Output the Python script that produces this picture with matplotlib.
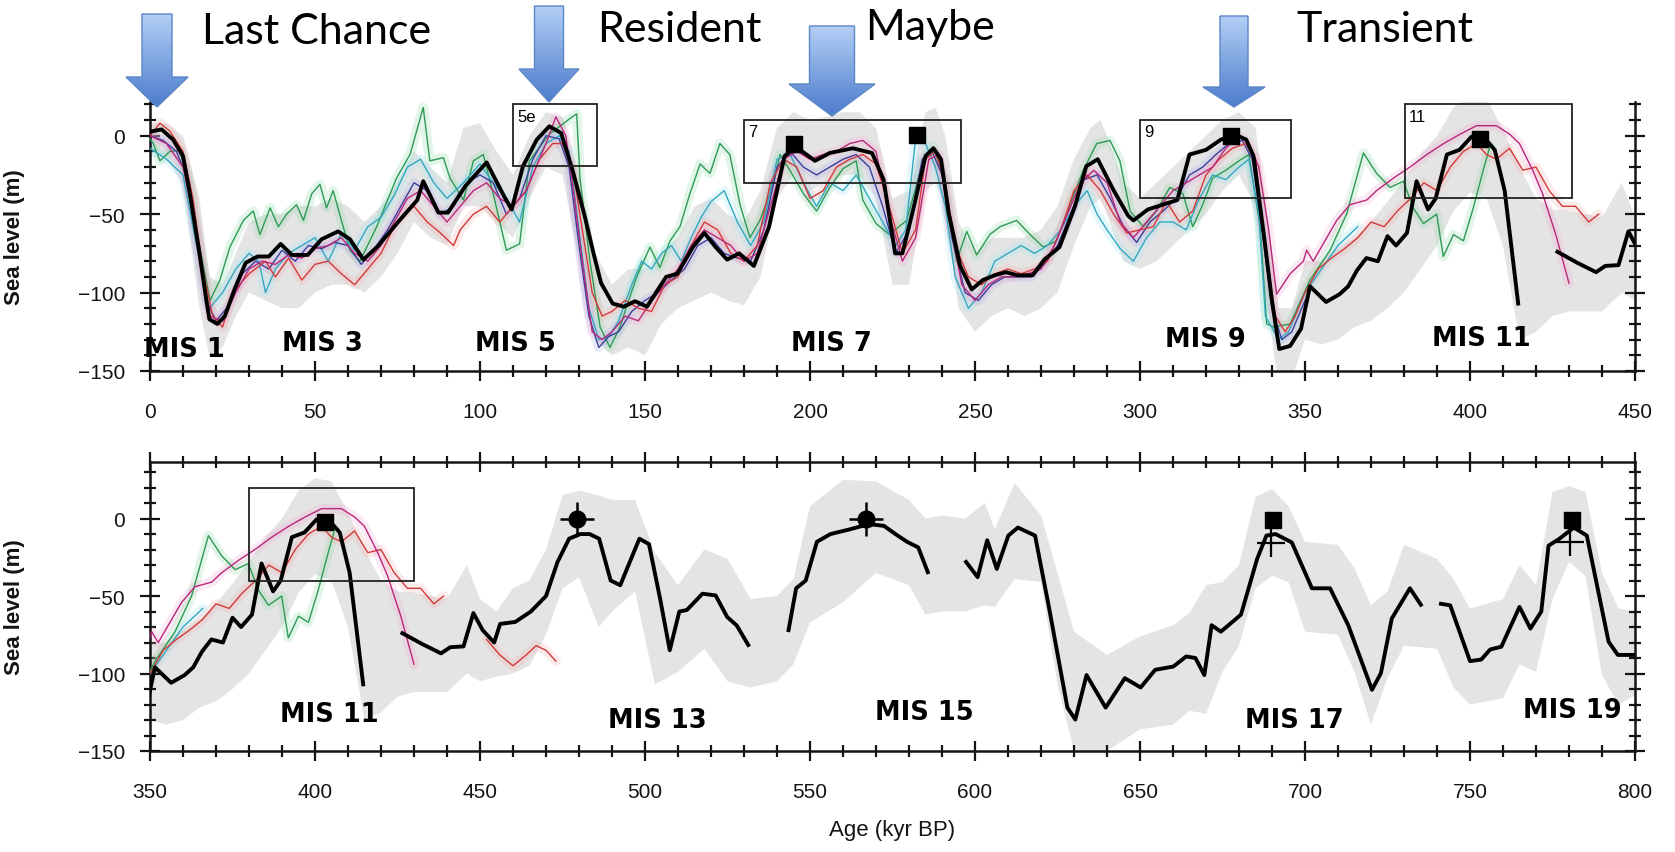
import numpy as np
import matplotlib
matplotlib.use("Agg")
import matplotlib.pyplot as plt
from matplotlib.patches import Rectangle, Polygon
from matplotlib.colors import LinearSegmentedColormap
from matplotlib.ticker import MultipleLocator

# ---------------------------------------------------------------- data
# Stacked sea-level reconstruction (thick black), kyr BP vs metres; None = gap
black_stack = [
    (0.6, 2.8), (3.5, 4), (7, -2.5), (10, -13), (12, -36), (15, -75), (17, -104), (18, -117),
    (20.4, -120), (22.7, -115), (25.6, -98), (29, -81), (32.6, -77), (36, -77), (39.6, -69),
    (43, -76), (47.8, -76), (52, -66), (57, -61), (60.6, -66), (64.7, -79), (69, -70.5),
    (75.8, -53.5), (81, -41), (82.8, -29), (87.4, -49), (90.3, -49), (95.6, -32), (102, -17),
    (107.3, -38.6), (109.6, -47), (113, -19.5), (117.2, -2.5), (121, 6), (124.6, 1.7),
    (128, -21.6), (131.7, -51), (134.4, -75), (136.7, -94), (140.2, -107), (143.6, -109),
    (147, -105.5), (150.6, -109), (156.4, -90), (159.8, -88), (164.5, -71), (168, -62),
    (171.4, -71), (174.9, -79), (178.5, -75), (183, -83), (187.6, -58), (192.3, -13),
    (195.7, -7), (201.5, -16), (206, -11), (213, -8), (218.8, -11), (222.3, -28), (225.8, -75),
    (228, -75), (231.5, -45), (235, -13), (237.4, -8), (239.7, -15), (242, -49), (245.5, -83),
    (249, -98), (252.4, -92), (255.9, -89), (259.4, -87), (262.9, -89), (267.5, -89),
    (271, -79), (275.6, -71), (280.3, -45), (283.7, -19.5), (287.2, -15), (291.8, -34),
    (296.4, -51), (298, -54), (302.4, -47), (306.8, -44), (311.3, -41), (315, -12), (320, -9),
    (324.5, -2.5), (329, 0.6), (332.2, -2.5), (334.4, -13), (337.7, -66), (339.9, -104),
    (342.2, -136), (345.5, -134), (348.8, -123), (351.5, -96), (356.4, -106), (360.5, -101),
    (363.1, -96), (365.7, -86), (368.6, -78), (372.1, -80), (375, -64), (377.6, -70),
    (380.9, -62), (383.8, -29), (387.3, -47), (389.6, -40), (393, -12), (396.8, -9),
    (400.5, -0.5), (404, -0.5), (407.5, -9), (410.5, -35), (414.6, -107), (420, None),
    (426.5, -74), (432.5, -81), (438.2, -87), (441, -83), (445, -82.5), (448, -61),
    (450.8, -72), (454.3, -80), (456.1, -68), (460.7, -66.7), (465.4, -60), (470, -50),
    (473.5, -28), (477, -13), (480.4, -10), (483.2, -10), (486.1, -13), (489.6, -40),
    (492.5, -43), (498.3, -13), (501.2, -16.5), (504.6, -52), (507.5, -85), (510.4, -60),
    (512.7, -59), (517.4, -48.5), (521.4, -49.6), (524.9, -63.5), (527.8, -69), (531.3, -81.6),
    (537, None), (543.5, -72), (545.8, -45), (548.7, -40), (552.1, -15), (556.2, -10),
    (562, -7), (567.8, -3.6), (572.4, -4.7), (575.9, -10), (579.4, -15), (582.8, -18.6),
    (585.7, -34.6), (591, None), (597.3, -28), (600.8, -37.8), (603.7, -14), (606.6, -32.5),
    (610.1, -11), (613, -5.8), (618.2, -11), (622.3, -56), (628, -122), (630.4, -129.7),
    (633.8, -101), (639.6, -122), (645.4, -103), (650.2, -109), (654.6, -97.6), (660.1, -95.5),
    (664, -89), (666.8, -90), (669.5, -101), (671.7, -68.8), (674.5, -73), (680.6, -62),
    (685.5, -26), (688.3, -11), (691.1, -10), (696, -15.4), (702.1, -45), (707.6, -45),
    (713.1, -68.8), (720.3, -110.5), (723, -99.8), (726.3, -64.5), (731.8, -45), (735.1, -55.6),
    (738, None), (741.2, -55), (744, -56), (750, -92), (753.4, -91), (756.1, -84.5),
    (759.5, -82.7), (765, -57), (768.3, -71), (771.6, -60), (773.8, -17.5), (777.1, -13),
    (781.5, -5.8), (785.4, -11), (792, -79.5), (794.8, -88), (799.8, -88),
]

# Uncertainty envelope of the stack: (age, upper, lower)
envelope = [
    (0, 8, -8), (5, 8, -14), (10, 0, -32), (15, -40, -110), (18, -90, -140), (22, -95, -135),
    (26, -75, -115), (30, -55, -100), (35, -50, -105), (40, -50, -110), (45, -45, -110),
    (50, -45, -100), (55, -40, -95), (60, -45, -95), (65, -55, -100), (70, -45, -90),
    (75, -30, -75), (80, -10, -55), (85, -20, -65), (90, -30, -70), (95, 5, -45), (100, 8, -45),
    (105, -10, -55), (110, -25, -65), (115, 0, -40), (120, 15, -20), (125, 12, -25),
    (130, -25, -80), (135, -75, -130), (140, -95, -140), (145, -85, -135), (150, -85, -140),
    (155, -75, -120), (160, -65, -110), (165, -45, -105), (170, -40, -100), (175, -50, -105),
    (180, -55, -108), (185, -35, -90), (190, 5, -40), (195, 15, -25), (200, 10, -35),
    (205, 12, -30), (210, 15, -25), (215, 15, -25), (220, 5, -40), (225, -40, -95),
    (230, -35, -95), (235, 15, -35), (238, 18, -30), (241, 0, -45), (245, -55, -110),
    (250, -75, -125), (255, -65, -115), (260, -65, -110), (265, -65, -115), (270, -60, -110),
    (275, -45, -100), (280, -15, -70), (285, 5, -45), (288, 10, -40), (290, 0, -50),
    (295, -30, -80), (300, -40, -85), (305, -30, -80), (310, -20, -70), (315, -10, -60),
    (320, 0, -50), (325, 10, -35), (330, 15, -25), (335, 5, -45), (338, -40, -100),
    (342, -110, -160), (346, -110, -155), (350, -80, -130), (355, -80, -133), (360, -72, -130),
    (365, -65, -122), (370, -55, -118), (375, -42, -110), (380, -28, -100), (385, -12, -85),
    (390, 0, -70), (395, 18, -48), (400, 26, -36), (405, 24, -40), (410, 4, -70),
    (415, -20, -130), (420, -40, -125), (425, -47, -115), (430, -48, -112), (435, -50, -112),
    (440, -52, -112), (446, -30, -100), (450, -52, -105), (455, -60, -102), (460, -45, -100),
    (465, -40, -95), (470, -20, -75), (475, 15, -45), (480, 18, -38), (486, 15, -70),
    (490, 12, -60), (497, 12, -47), (503, -22, -107), (510, -43, -99), (518, -20, -84),
    (525, -26, -105), (532, -52, -109), (540, -50, -105), (545, -39, -94), (550, 8, -67),
    (560, 25, -54), (570, 24, -35), (580, 12, -43), (585, 0, -62), (590, 2, -60),
    (597, 0, -60), (603, 10, -56), (606, -7, -57), (612, 23, -39), (620, 2, -41),
    (625, -35, -107), (630, -73, -150), (640, -88, -150), (650, -76, -136), (660, -69, -133),
    (665, -61, -124), (670, -43, -126), (675, -41, -99), (680, -30, -82), (685, 14, -45),
    (690, 19, -37), (695, 8, -41), (700, -15, -73), (710, -17, -75), (715, -32, -99),
    (720, -56, -133), (725, -47, -103), (730, -17, -82), (740, -26, -84), (745, -39, -109),
    (750, -58, -120), (760, -52, -116), (765, -30, -94), (770, -43, -99), (775, 17, -52),
    (780, 21, -28), (785, 17, -37), (790, -35, -101), (795, -58, -120), (800, -60, -114),
]

# Individual records (thin coloured curves)
green_rec = [
    (0, -2), (1, -5), (3, -16), (6, -10), (9, -9.5), (12, -30), (15, -70), (18.2, -105),
    (21.2, -92), (24.2, -71), (28.3, -54), (31.3, -48), (33.3, -63), (36.4, -46), (38.9, -58),
    (41.4, -50), (44.4, -44), (46.5, -54), (49, -37), (51.5, -31), (53.5, -46), (55.5, -35),
    (58, -54), (60.6, -73), (63.6, -80), (68.7, -58), (74.7, -27), (78.8, -12), (82.8, 18),
    (84.8, -16), (88.9, -14), (90.9, -27), (95, -41), (98, -16), (101, -12), (104, -37),
    (108, -73), (112, -69), (115, -16), (121, 1), (127.3, 11), (129.3, 14), (130.3, -27),
    (133.3, -80), (136.4, -122), (139.4, -135), (142.4, -122), (144.4, -109), (147.5, -90),
    (151.5, -71), (154.5, -84), (157.6, -67), (160.6, -58), (163.6, -37), (166.7, -18),
    (169.7, -24), (172.7, -5), (175.7, -12), (178.8, -44), (181.8, -65), (184.8, -54),
    (188.9, -31), (190.9, -12), (193.9, -22), (198, -37), (202, -48), (206, -33), (210, -21),
    (214, -16), (216, -41), (220, -56), (224, -63), (229.3, -54), (234.3, -16), (237.4, -7),
    (240.4, -27), (244.4, -80), (247.5, -61), (250.5, -76), (254.5, -63), (257.6, -58),
    (262.6, -54), (266.7, -63), (270.7, -71), (274.7, -67), (278.8, -44), (282.8, -22),
    (286.9, -5), (290.9, -3), (293.9, -16), (297, -48), (301, -58), (305, -48), (309, -33),
    (313, -37), (316, -58), (319, -44), (322, -27), (326, -22), (330, -16), (333, -12),
    (336.4, -58), (338.4, -120), (340.4, -122), (345.5, -120), (351.5, -92), (357.6, -73),
    (362.6, -50), (367.7, -11), (371.7, -24), (375.8, -33), (379.8, -29), (382.8, -46),
    (385.9, -56), (389.9, -50), (391.9, -77), (395, -63), (398, -67), (401, -46), (404, -22),
    (406, -7),
]
cyan_rec = [
    (0, -8), (5, -15), (10, -25), (15, -80), (18, -110), (22, -100), (26, -85), (30, -75),
    (33, -80), (35, -100), (38, -85), (42, -75), (46, -70), (50, -65), (54, -80), (58, -62),
    (62, -73), (66, -58), (70, -52), (74, -38), (78, -20), (82, -15), (86, -30), (90, -40),
    (95, -30), (100, -18), (104, -30), (108, -40), (112, -55), (116, -20), (120, -5), (124, 0),
    (127, -10), (130, -60), (133, -110), (136, -130), (139, -128), (142, -118), (146, -95),
    (149, -80), (152, -85), (155, -75), (158, -70), (161, -80), (164, -65), (167, -52),
    (170, -42), (174, -35), (178, -55), (182, -70), (186, -55), (190, -15), (194, -12),
    (198, -30), (202, -45), (206, -30), (210, -35), (214, -25), (218, -40), (222, -55),
    (226, -70), (229, -60), (232, -2), (235, -5), (238, -20), (241, -45), (244, -90),
    (248, -110), (252, -100), (256, -80), (260, -75), (264, -70), (268, -75), (272, -70),
    (276, -60), (280, -45), (284, -35), (287, -50), (290, -60), (294, -72), (298, -80),
    (302, -65), (306, -55), (310, -55), (314, -60), (318, -40), (322, -25), (326, -28),
    (330, -20), (333, -15), (336, -50), (338, -115), (342, -130), (345, -125), (350, -100),
    (355, -85), (360, -70), (366, -58),
]
red_rec = [
    (0, 0), (3, 8), (6, 3), (10, -10), (13, -40), (16, -85), (19, -115), (22, -122), (25, -100),
    (30, -88), (35, -80), (38, -90), (42, -78), (46, -92), (50, -82), (54, -80), (58, -88),
    (62, -95), (66, -85), (70, -75), (74, -58), (78, -48), (80, -45), (84, -55), (88, -62),
    (92, -70), (94, -60), (98, -50), (102, -45), (106, -55), (110, -45), (114, -35),
    (118, -15), (122, -5), (125, -5), (128, -20), (131, -60), (134, -100), (137, -115),
    (140, -112), (144, -105), (148, -110), (152, -112), (156, -95), (160, -90), (164, -70),
    (168, -55), (172, -60), (176, -75), (180, -80), (184, -70), (188, -30), (192, -15),
    (196, -20), (200, -40), (204, -35), (208, -20), (212, -15), (216, -12), (220, -18),
    (224, -45), (228, -75), (232, -60), (235, -15), (238, -10), (241, -30), (244, -70),
    (248, -90), (252, -95), (256, -88), (260, -85), (264, -88), (268, -85), (272, -80),
    (276, -60), (280, -35), (284, -25), (288, -35), (292, -50), (296, -62), (300, -60),
    (304, -58), (308, -42), (312, -55), (316, -48), (320, -25), (324, -15), (328, -8),
    (332, -5), (335, -15), (338, -70), (341, -115), (344, -125), (347, -115), (350, -100),
    (354, -85), (358, -78), (362, -72), (366, -65), (370, -55), (374, -58), (378, -48),
    (382, -40), (386, -30), (390, -35), (394, -20), (398, -10), (402, -5), (405, -12),
    (408, -15), (412, -8), (416, -22), (420, -20), (424, -35), (428, -45), (432, -45),
    (436, -55), (439, -50), (446, None), (452, -78), (456, -88), (460, -95), (464, -88),
    (467, -82), (470, -85), (473, -92),
]
magenta_rec = [
    (0, 0), (5, -5), (10, -20), (14, -60), (18, -115), (22, -118), (26, -100), (30, -85),
    (34, -80), (38, -82), (42, -76), (46, -78), (50, -72), (54, -70), (58, -65), (62, -75),
    (66, -80), (70, -70), (74, -55), (78, -40), (82, -35), (86, -45), (90, -55), (94, -45),
    (98, -35), (102, -30), (106, -40), (110, -45), (114, -35), (117, -20), (120, -5),
    (123, 12), (126, 0), (128, -30), (131, -80), (134, -125), (137, -130), (140, -125),
    (144, -115), (148, -118), (152, -105), (156, -95), (160, -85), (164, -70), (168, -60),
    (172, -65), (176, -70), (180, -80), (184, -75), (188, -45), (192, -15), (196, -10),
    (200, -15), (204, -12), (208, -10), (212, -5), (216, -3), (220, -10), (224, -50),
    (228, -80), (232, -65), (236, -15), (239, -12), (242, -50), (246, -95), (250, -105),
    (254, -95), (258, -90), (262, -90), (266, -88), (270, -85), (274, -70), (278, -50),
    (282, -30), (286, -22), (290, -30), (294, -55), (298, -65), (302, -55), (306, -45),
    (310, -35), (314, -30), (318, -25), (322, -20), (326, -8), (330, 0), (333, -5),
    (336, -20), (339, -60), (341.4, -101), (345.5, -88), (349.5, -80), (350.5, -73),
    (352.5, -80), (355.5, -69), (359.6, -54), (363.6, -44), (368.7, -41), (371.7, -35),
    (376.8, -27), (381.8, -20), (386.9, -12), (392, -5), (397, 1), (402, 6.4), (408, 6.4),
    (412, 1), (415, -5), (419, -22), (422, -37), (426, -63), (430, -94),
]
blue_rec = [
    (0, 0), (4, -3), (8, -10), (11, -25), (14, -65), (17, -105), (20, -118), (24, -108),
    (28, -88), (32, -80), (36, -85), (40, -73), (44, -80), (48, -70), (52, -72), (56, -68),
    (60, -70), (64, -82), (68, -72), (72, -60), (76, -45), (80, -30), (84, -35), (88, -50),
    (92, -45), (96, -30), (100, -25), (104, -30), (108, -50), (112, -40), (116, -15),
    (120, 0), (124, -2), (127, -20), (130, -70), (133, -115), (136, -135), (139, -128),
    (142, -125), (146, -112), (150, -105), (154, -100), (158, -92), (162, -85), (166, -70),
    (170, -65), (174, -75), (178, -78), (182, -80), (186, -60), (190, -20), (194, -10),
    (198, -20), (202, -25), (206, -20), (210, -15), (214, -12), (218, -20), (222, -45),
    (226, -75), (230, -60), (234, -15), (237, -10), (240, -25), (243, -65), (247, -100),
    (251, -105), (255, -95), (259, -90), (263, -90), (267, -90), (271, -82), (275, -70),
    (279, -50), (283, -28), (287, -25), (291, -40), (295, -58), (299, -68), (303, -55),
    (307, -48), (311, -40), (315, -25), (319, -20), (323, -12), (327, -5), (331, -3),
    (334, -15), (337, -60), (340, -110), (343, -130), (346, -125), (350, -105),
]

# Highstand windows drawn as boxes: (label, age0, age1, sl_low, sl_high)
windows_top = [("5e", 110, 135.5, -19, 20), ("7", 180, 245.7, -30, 10),
               ("9", 300, 345.7, -40, 10), ("11", 380.3, 431, -40, 20)]
windows_bottom = [("", 380, 430, -40, 20)]

# Highstand estimates
square_pts = [(195, -5), (232.5, 0.5), (327.5, 0), (403, -2), (690.3, -1), (781, -1)]
dot_pts = [(479.5, -0.5), (567, -0.5)]
plus_pts = [(689.8, -16), (780.3, -15)]

# Marine isotope stage labels (age, sea level)
mis_top = [("MIS 1", 10.5, -136), ("MIS 3", 52.3, -132), ("MIS 5", 110.6, -132),
           ("MIS 7", 206.4, -132), ("MIS 9", 319.7, -129.5), ("MIS 11", 403.5, -129)]
mis_bottom = [("MIS 11", 404.2, -126), ("MIS 13", 503.6, -130), ("MIS 15", 584.5, -125),
              ("MIS 17", 696.9, -130), ("MIS 19", 781, -123.5)]

# Call-out arrows: label, arrow centre x, shaft top, neck, tip, shaft width, head width (px)
callouts = [("Last Chance", 157, 15, 78, 108, 30, 62),
            ("Resident", 549, 7, 70, 103, 29, 60),
            ("Maybe", 832, 27, 85, 117, 45, 86),
            ("Transient", 1234, 17, 88, 108, 28, 62)]
callout_text_pos = [(202, 32), (597, 30), (865, 28), (1296, 30)]


def to_xy(rec):
    x = np.array([p[0] for p in rec], float)
    y = np.array([np.nan if p[1] is None else p[1] for p in rec], float)
    return x, y


# ---------------------------------------------------------------- figure
plt.rcParams["font.family"] = ["Liberation Sans", "DejaVu Sans"]
W, H = 1675, 853
fig = plt.figure(figsize=(W / 100, H / 100), dpi=100)


def px_axes(left, top, right, bottom):
    return fig.add_axes([left / W, 1 - bottom / H, (right - left) / W, (bottom - top) / H])


ax1 = px_axes(150, 103, 1635, 372)
ax2 = px_axes(150, 463, 1635, 752)

env = np.array(envelope, float)
bx, by = to_xy(black_stack)
series = [(green_rec, "#2e9a55", "#8fd9a8"), (cyan_rec, "#35a8c0", "#9ee6f0"),
          (blue_rec, "#3b3f9c", "#b0b4ee"), (red_rec, "#d23a3a", "#f5b0b0"),
          (magenta_rec, "#b8287a", "#f0a8d0")]
INK = "#141414"

for ax, (x0, x1), ytop, top_spine in [(ax1, (0, 450), 21.5, False), (ax2, (350, 800), 36.5, True)]:
    ax.fill_between(env[:, 0], env[:, 2], env[:, 1], color="#e4e4e4", lw=0, zorder=1)
    for rec, col, halo in series:
        sx, sy = to_xy(rec)
        ax.plot(sx, sy, color=halo, lw=7, alpha=0.25, solid_capstyle="round", zorder=2)
    for rec, col, halo in series:
        sx, sy = to_xy(rec)
        ax.plot(sx, sy, color=col, lw=1.0, zorder=3)
    ax.plot(bx, by, color="black", lw=2.8, zorder=5, solid_joinstyle="round")

    ax.set_xlim(x0, x1)
    ax.set_ylim(-150, ytop)
    ax.xaxis.set_major_locator(MultipleLocator(50))
    ax.xaxis.set_minor_locator(MultipleLocator(10))
    ax.yaxis.set_major_locator(MultipleLocator(50))
    ax.yaxis.set_minor_locator(MultipleLocator(10))
    ax.tick_params(which="both", direction="inout", top=top_spine, right=True,
                   width=1.6, color=INK)
    ax.tick_params(which="major", length=14)
    ax.tick_params(which="minor", length=8)
    ax.tick_params(axis="x", labelsize=15, labelcolor=INK, pad=15)
    ax.tick_params(axis="y", labelsize=15, labelcolor=INK, pad=11)
    for side in ("left", "right", "bottom", "top"):
        ax.spines[side].set_linewidth(1.8)
        ax.spines[side].set_color(INK)
    ax.spines["top"].set_visible(top_spine)
    ax.set_ylabel("Sea level (m)", fontsize=16, fontweight="bold", color=INK)
    ax.yaxis.set_label_coords(-0.084, 0.5)

for ax, wins in [(ax1, windows_top), (ax2, windows_bottom)]:
    for lab, a0, a1, lo, hi in wins:
        ax.add_patch(Rectangle((a0, lo), a1 - a0, hi - lo, fill=False, ec="#222222", lw=1.3, zorder=6))
        if lab:
            ax.annotate(lab, (a0, hi), xytext=(3, -3), textcoords="offset points",
                        ha="left", va="top", fontsize=12, zorder=7)

for ax in (ax1, ax2):
    x0, x1 = ax.get_xlim()
    for a, s in square_pts:
        if x0 <= a <= x1:
            ax.plot(a, s, marker="s", ms=11, color="black", zorder=8)
    for a, s in dot_pts:
        if x0 <= a <= x1:
            ax.plot(a, s, marker="o", ms=12, color="black", zorder=8)
            ax.plot(a, s, marker="+", ms=24, mew=1.8, color="black", zorder=8)
    for a, s in plus_pts:
        if x0 <= a <= x1:
            ax.plot(a, s, marker="+", ms=20, mew=1.6, color="black", zorder=8)

for ax, labs in [(ax1, mis_top), (ax2, mis_bottom)]:
    for lab, a, s in labs:
        ax.text(a, s, lab, ha="center", va="center", fontsize=18.5, fontweight="bold",
                family="DejaVu Sans", zorder=9)

fig.text(892 / W, 1 - 831 / H, "Age (kyr BP)", ha="center", va="center", fontsize=16, color=INK)

# ---------------------------------------------------------------- call-out arrows
ov = fig.add_axes([0, 0, 1, 1], zorder=20)
ov.patch.set_alpha(0)
ov.axis("off")
grad_cmap = LinearSegmentedColormap.from_list("arrowblue", ["#b3cff5", "#4c7ccc"])
grad = np.linspace(0, 1, 256).reshape(-1, 1)
for (lab, cx, top, neck, tip, sw, hw), (tx, ty) in zip(callouts, callout_text_pos):
    pts = [(cx - sw / 2, top), (cx + sw / 2, top), (cx + sw / 2, neck), (cx + hw / 2, neck),
           (cx, tip), (cx - hw / 2, neck), (cx - sw / 2, neck)]
    poly = Polygon(pts, closed=True, facecolor="none", edgecolor="#5a86c8", lw=1.0, zorder=3)
    ov.add_patch(poly)
    im = ov.imshow(grad, cmap=grad_cmap, origin="lower", aspect="auto",
                   extent=(cx - hw / 2, cx + hw / 2, top, tip), zorder=2)
    im.set_clip_path(poly)
    ov.text(tx, ty, lab, ha="left", va="center", fontsize=31, family="Lato", color="black")
ov.set_xlim(0, W)
ov.set_ylim(H, 0)

fig.savefig("out.png", dpi=100, facecolor="white")
